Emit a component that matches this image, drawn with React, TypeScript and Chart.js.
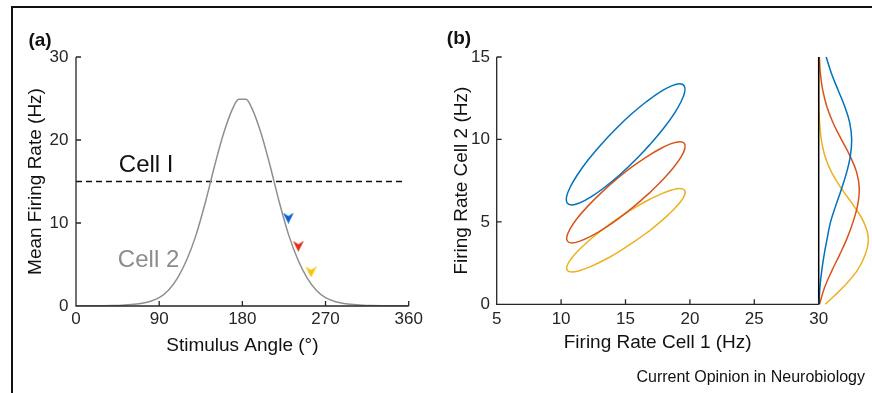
import React, { useEffect, useRef } from 'react';
import { Chart, registerables } from 'chart.js';

Chart.register(...registerables);

const FONT = '"Liberation Sans", Arial, Helvetica, sans-serif';
const AXIS_COLOR = '#262626';

// ---------- Panel (a) data ----------
const angleTicks = [0, 90, 180, 270, 360];
const rateTicks = [0, 10, 20, 30];
const cell2Angles = [0, 10, 20, 30, 40, 50, 60, 70, 80, 90, 100, 110, 120, 130, 140, 150, 160, 170, 176, 184, 190, 200, 210, 220, 230, 240, 250, 260, 270, 280, 290, 300, 310, 320, 330, 340, 350, 360];
const cell2Rates = [0.02, 0.02, 0.03, 0.04, 0.06, 0.1, 0.17, 0.3, 0.55, 1.0, 1.9, 3.4, 5.6, 8.6, 12.5, 16.9, 20.9, 23.9, 24.9, 24.9, 23.9, 20.9, 16.9, 12.5, 8.6, 5.6, 3.4, 1.9, 1.0, 0.55, 0.3, 0.17, 0.1, 0.06, 0.04, 0.03, 0.02, 0.02];
const cell1Angles = [0, 355];
const cell1Rates = [15, 15];
const arrowAngles = [229.8, 240.6, 254.3];
const arrowRates = [10.6, 7.2, 4.1];
const arrowColors = ['#0a5fd6', '#e2301c', '#f7c400'];
const cellLabelText = ['Cell I', 'Cell 2'];
const cellLabelAngle = [75.9, 78.5];
const cellLabelRate = [16.2, 4.75];
const cellLabelColor = ['#111111', '#8c8c8c'];

// ---------- Panel (b) data ----------
const cell1RateTicks = [5, 10, 15, 20, 25, 30];
const cell2RateTicks = [0, 5, 10, 15];
const blueEllipseX = [16.91, 17.93, 18.76, 19.32, 19.6, 19.56, 19.21, 18.58, 17.7, 16.64, 15.46, 14.26, 13.11, 12.09, 11.27, 10.7, 10.42, 10.46, 10.81, 11.45, 12.32, 13.38, 14.56, 15.76, 16.91];
const blueEllipseY = [9.7, 10.65, 11.54, 12.3, 12.89, 13.25, 13.38, 13.25, 12.89, 12.3, 11.54, 10.65, 9.7, 8.75, 7.86, 7.1, 6.51, 6.15, 6.02, 6.15, 6.51, 7.1, 7.86, 8.75, 9.7];
const redEllipseX = [16.91, 17.93, 18.76, 19.33, 19.61, 19.57, 19.23, 18.6, 17.73, 16.67, 15.5, 14.3, 13.15, 12.13, 11.3, 10.73, 10.45, 10.49, 10.83, 11.46, 12.33, 13.39, 14.56, 15.76, 16.91];
const redEllipseY = [6.79, 7.59, 8.33, 8.96, 9.45, 9.76, 9.86, 9.76, 9.45, 8.96, 8.33, 7.59, 6.79, 6.0, 5.26, 4.62, 4.13, 3.83, 3.72, 3.83, 4.13, 4.62, 5.26, 6.0, 6.79];
const yellowEllipseX = [16.91, 17.93, 18.76, 19.33, 19.61, 19.57, 19.23, 18.6, 17.73, 16.67, 15.5, 14.3, 13.15, 12.13, 11.3, 10.73, 10.45, 10.49, 10.83, 11.46, 12.33, 13.39, 14.56, 15.76, 16.91];
const yellowEllipseY = [4.49, 5.15, 5.76, 6.28, 6.68, 6.93, 7.02, 6.93, 6.68, 6.28, 5.76, 5.15, 4.49, 3.84, 3.23, 2.7, 2.3, 2.05, 1.96, 2.05, 2.3, 2.7, 3.23, 3.84, 4.49];
const blueMarginalX = [30.58, 30.99, 31.5, 32.02, 32.41, 32.56, 32.46, 32.17, 31.77, 31.33, 30.92, 30.66, 30.42, 30.23, 30.09, 30.02];
const blueMarginalY = [15, 14, 13, 12, 11, 10, 9, 8, 7, 6, 5, 4, 3, 2, 1, 0];
const redMarginalX = [30.05, 30.13, 30.31, 30.63, 31.12, 31.76, 32.43, 32.95, 33.15, 33.02, 32.67, 32.2, 31.62, 31.0, 30.45, 30.06];
const redMarginalY = [15, 14, 13, 12, 11, 10, 9, 8, 7, 6, 5, 4, 3, 2, 1, 0];
const yellowMarginalX = [30.0, 30.0, 30.01, 30.02, 30.07, 30.2, 30.48, 31.0, 31.78, 32.7, 33.49, 33.85, 33.61, 32.95, 31.85, 31.2, 30.5];
const yellowMarginalY = [15, 14, 13, 12, 11, 10, 9, 8, 7, 6, 5, 4, 3, 2, 1, 0.5, 0];
const dividerX = [30, 30];
const dividerY = [0, 15];
const seriesColors = ['#0072BD', '#D95319', '#EDB120'];

const pts = (xs: number[], ys: number[]) => xs.map((x, i) => ({ x, y: ys[i] }));

function makeArrow(color: string) {
  const c = document.createElement('canvas');
  c.width = 11;
  c.height = 11;
  const g = c.getContext('2d')!;
  g.fillStyle = color;
  g.beginPath();
  g.moveTo(5.5, 11);
  g.lineTo(0, 0);
  g.lineTo(5.5, 3.5);
  g.lineTo(11, 0);
  g.closePath();
  g.fill();
  return c;
}

const axesPlugin = {
  id: 'matlabAxes',
  afterDatasetsDraw(chart: any) {
    const { ctx, chartArea, scales } = chart;
    const xs = scales.x;
    const ys = scales.y;
    ctx.save();
    ctx.strokeStyle = AXIS_COLOR;
    ctx.lineWidth = 1.3;
    ctx.beginPath();
    ctx.moveTo(chartArea.left, chartArea.top);
    ctx.lineTo(chartArea.left, chartArea.bottom);
    ctx.lineTo(chartArea.right, chartArea.bottom);
    xs.ticks.forEach((t: any) => {
      const px = xs.getPixelForValue(t.value);
      ctx.moveTo(px, chartArea.bottom);
      ctx.lineTo(px, chartArea.bottom - 5);
    });
    ys.ticks.forEach((t: any) => {
      const py = ys.getPixelForValue(t.value);
      ctx.moveTo(chartArea.left, py);
      ctx.lineTo(chartArea.left + 5, py);
    });
    ctx.stroke();
    ctx.restore();
  },
};

const cellLabelPlugin = {
  id: 'cellLabels',
  afterDatasetsDraw(chart: any) {
    const { ctx, scales } = chart;
    ctx.save();
    ctx.font = `24px ${FONT}`;
    ctx.textAlign = 'center';
    ctx.textBaseline = 'alphabetic';
    cellLabelText.forEach((t, i) => {
      ctx.fillStyle = cellLabelColor[i];
      ctx.fillText(t, scales.x.getPixelForValue(cellLabelAngle[i]), scales.y.getPixelForValue(cellLabelRate[i]));
    });
    ctx.restore();
  },
};

function axisOpts(min: number, max: number, tickVals: number[], title: string, extra: any) {
  return {
    type: 'linear',
    min,
    max,
    afterBuildTicks: (s: any) => {
      s.ticks = tickVals.map((v) => ({ value: v }));
    },
    grid: { display: false, drawTicks: false },
    border: { display: false },
    ticks: {
      autoSkip: false,
      maxRotation: 0,
      color: AXIS_COLOR,
      font: { size: 17, family: FONT },
      callback: (v: any) => String(v),
      padding: extra.tickPadding,
    },
    title: {
      display: true,
      text: title,
      color: '#111111',
      font: { size: 19, family: FONT },
      padding: extra.titlePadding,
    },
    afterFit: extra.afterFit,
  };
}

export default function App() {
  const refA = useRef<HTMLCanvasElement>(null);
  const refB = useRef<HTMLCanvasElement>(null);

  useEffect(() => {
    const arrowImgs = arrowColors.map(makeArrow);
    const chartA = new Chart(refA.current as HTMLCanvasElement, {
      type: 'scatter',
      data: {
        datasets: [
          {
            label: 'Cell 2',
            data: pts(cell2Angles, cell2Rates),
            showLine: true,
            borderColor: '#8f8f8f',
            borderWidth: 1.5,
            pointRadius: 0,
            cubicInterpolationMode: 'monotone',
          },
          {
            label: 'Cell I',
            data: pts(cell1Angles, cell1Rates),
            showLine: true,
            borderColor: '#111111',
            borderWidth: 1.5,
            borderDash: [6, 4],
            pointRadius: 0,
          },
          {
            label: 'stimuli',
            data: pts(arrowAngles, arrowRates),
            showLine: false,
            pointRadius: 5,
            pointStyle: (c: any) => arrowImgs[c.dataIndex % arrowImgs.length],
          },
        ],
      } as any,
      options: {
        responsive: false,
        animation: false,
        layout: { padding: { left: 24.6, top: 57, right: 21.3, bottom: 30 } },
        plugins: { legend: { display: false }, tooltip: { enabled: false } },
        scales: {
          x: axisOpts(0, 360, angleTicks, 'Stimulus Angle (°)', {
            tickPadding: 3.3,
            titlePadding: { top: 0, bottom: 6.1 },
            afterFit: (s: any) => { s.height = 57; },
          }),
          y: axisOpts(0, 30, rateTicks, 'Mean Firing Rate (Hz)', {
            tickPadding: 7.5,
            titlePadding: { top: 0, bottom: 0 },
            afterFit: (s: any) => { s.width = 51.4; },
          }),
        },
      } as any,
      plugins: [axesPlugin, cellLabelPlugin],
    });

    const lineDs = (label: string, xs: number[], ys: number[], color: string) => ({
      label,
      data: pts(xs, ys),
      showLine: true,
      borderColor: color,
      borderWidth: 1.5,
      pointRadius: 0,
      tension: 0.4,
      capBezierPoints: false,
      clip: false,
    });

    const chartB = new Chart(refB.current as HTMLCanvasElement, {
      type: 'scatter',
      data: {
        datasets: [
          lineDs('blue', blueEllipseX, blueEllipseY, seriesColors[0]),
          lineDs('red', redEllipseX, redEllipseY, seriesColors[1]),
          lineDs('yellow', yellowEllipseX, yellowEllipseY, seriesColors[2]),
          { ...lineDs('divider', dividerX, dividerY, '#000000'), tension: 0 },
          lineDs('blue marginal', blueMarginalX, blueMarginalY, seriesColors[0]),
          lineDs('red marginal', redMarginalX, redMarginalY, seriesColors[1]),
          lineDs('yellow marginal', yellowMarginalX, yellowMarginalY, seriesColors[2]),
        ],
      } as any,
      options: {
        responsive: false,
        animation: false,
        layout: { padding: { left: 20.6, top: 57, right: 53.3, bottom: 30 } },
        plugins: { legend: { display: false }, tooltip: { enabled: false } },
        scales: {
          x: axisOpts(5, 30, cell1RateTicks, 'Firing Rate Cell 1 (Hz)', {
            tickPadding: 5,
            titlePadding: { top: 0, bottom: 8.6 },
            afterFit: (s: any) => { s.height = 58.7; },
          }),
          y: axisOpts(0, 15, cell2RateTicks, 'Firing Rate Cell 2 (Hz)', {
            tickPadding: 6.7,
            titlePadding: { top: 0, bottom: 0 },
            afterFit: (s: any) => { s.width = 46.1; },
          }),
        },
      } as any,
      plugins: [axesPlugin],
    });

    return () => {
      chartA.destroy();
      chartB.destroy();
    };
  }, []);

  return (
    <div style={{ position: 'fixed', left: 0, top: 0, width: 872, height: 393, background: '#ffffff', overflow: 'hidden', fontFamily: FONT }}>
      <div style={{ position: 'absolute', left: 11, top: 6, width: 880, height: 400, borderTop: '2px solid #111', borderLeft: '2px solid #111' }} />
      <canvas ref={refA} width={430} height={393} style={{ position: 'absolute', left: 0, top: 0, width: 430, height: 393 }} />
      <canvas ref={refB} width={442} height={393} style={{ position: 'absolute', left: 430, top: 0, width: 442, height: 393 }} />
      <div style={{ position: 'absolute', left: 40, top: 39, transform: 'translate(-50%, -50%)', fontWeight: 'bold', fontSize: 19, lineHeight: 1, color: '#111' }}>(a)</div>
      <div style={{ position: 'absolute', left: 459, top: 37, transform: 'translate(-50%, -50%)', fontWeight: 'bold', fontSize: 19, lineHeight: 1, color: '#111' }}>(b)</div>
      <div style={{ position: 'absolute', right: 7, top: 377, transform: 'translateY(-50%)', fontSize: 16, lineHeight: 1, color: '#111', whiteSpace: 'nowrap' }}>Current Opinion in Neurobiology</div>
    </div>
  );
}
